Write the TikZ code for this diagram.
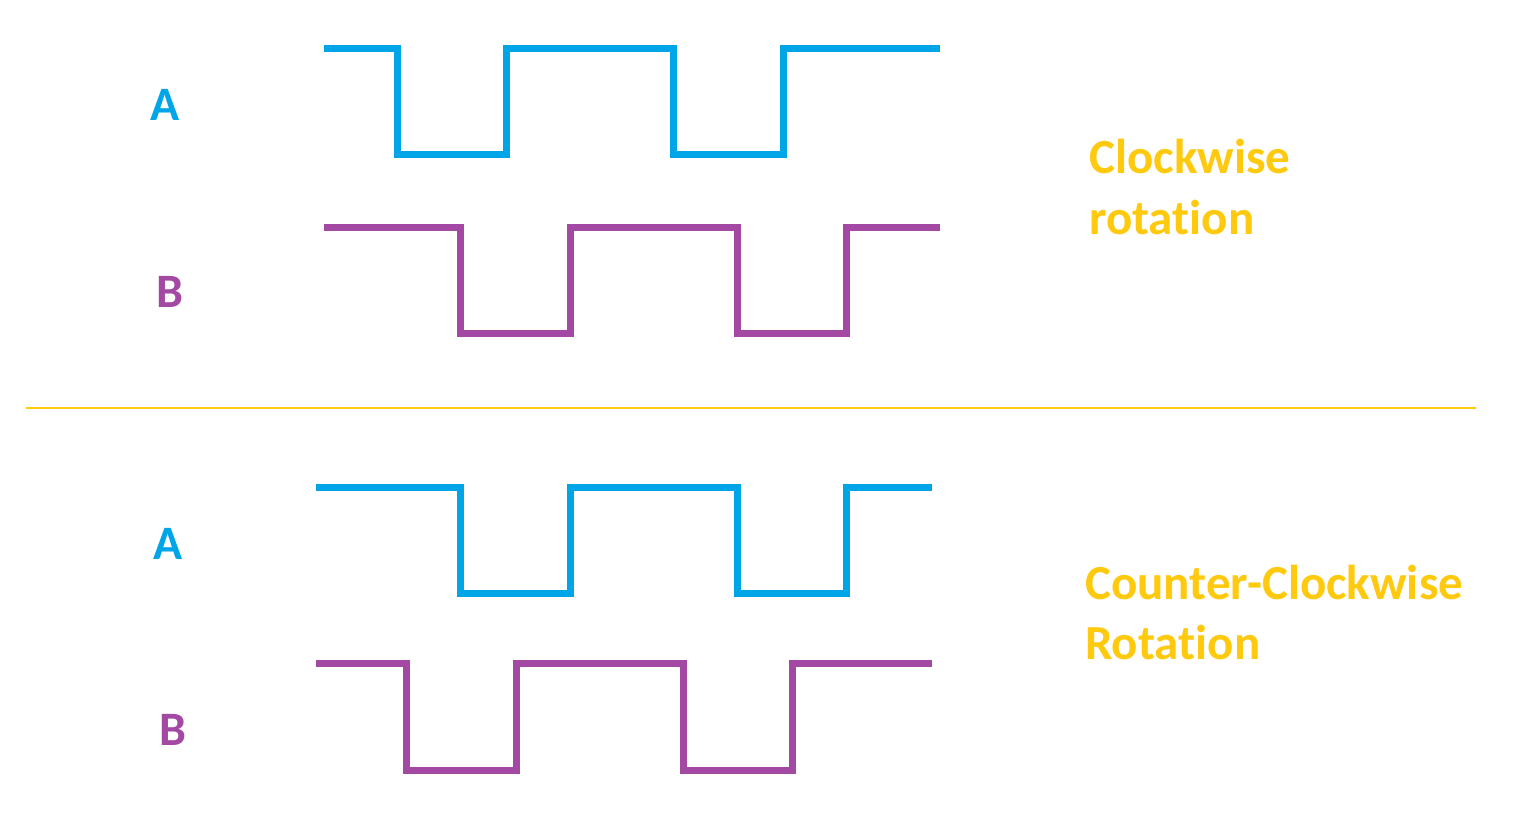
\documentclass[tikz,border=0pt]{standalone}
\usepackage{fontspec}
\setmainfont{Carlito}[Ligatures={NoCommon}]
\definecolor{sigA}{RGB}{0,165,232}
\definecolor{sigB}{RGB}{163,73,164}
\definecolor{accent}{RGB}{255,201,14}
\begin{document}
\begin{tikzpicture}[x=1pt,y=-1pt,
  wave/.style={line width=7pt, line join=miter, line cap=butt},
  lbl/.style={font=\bfseries\fontsize{48}{58}\selectfont, inner sep=0pt, anchor=base},
  txt/.style={font=\bfseries\fontsize{49}{58}\selectfont, inner sep=0pt, anchor=base west, text=accent}]
\useasboundingbox (0,0) rectangle (1536,820);
\fill[white] (0,0) rectangle (1536,820);
% clockwise
\draw[wave, sigA] (324,48) -- (397,48) -- (397,154) -- (506,154) -- (506,48) -- (673,48) -- (673,154) -- (783,154) -- (783,48) -- (940,48);
\draw[wave, sigB] (324,227) -- (460,227) -- (460,333) -- (570,333) -- (570,227) -- (737,227) -- (737,333) -- (846,333) -- (846,227) -- (940,227);
\node[lbl, text=sigA] (a1) at (165,120) {A};
\node[lbl, text=sigB] (b1) at (170,307) {B};
\node[txt] (cw1) at (1089,173) {Clockwise};
\node[txt] (cw2) at (1089,234) {rotation};
% divider
\draw[accent, line width=2.5pt] (26,408) -- (1476,408);
% counter-clockwise
\draw[wave, sigA] (316,487) -- (460,487) -- (460,593) -- (570,593) -- (570,487) -- (737,487) -- (737,593) -- (846,593) -- (846,487) -- (932,487);
\draw[wave, sigB] (316,663) -- (406,663) -- (406,770) -- (516,770) -- (516,663) -- (683,663) -- (683,770) -- (792,770) -- (792,663) -- (932,663);
\node[lbl, text=sigA] (a2) at (168,559) {A};
\node[lbl, text=sigB] (b2) at (173,745) {B};
\node[txt] (ccw1) at (1085,599) {Counter-Clockwise};
\node[txt] (ccw2) at (1085,659) {Rotation};
\end{tikzpicture}
\end{document}
